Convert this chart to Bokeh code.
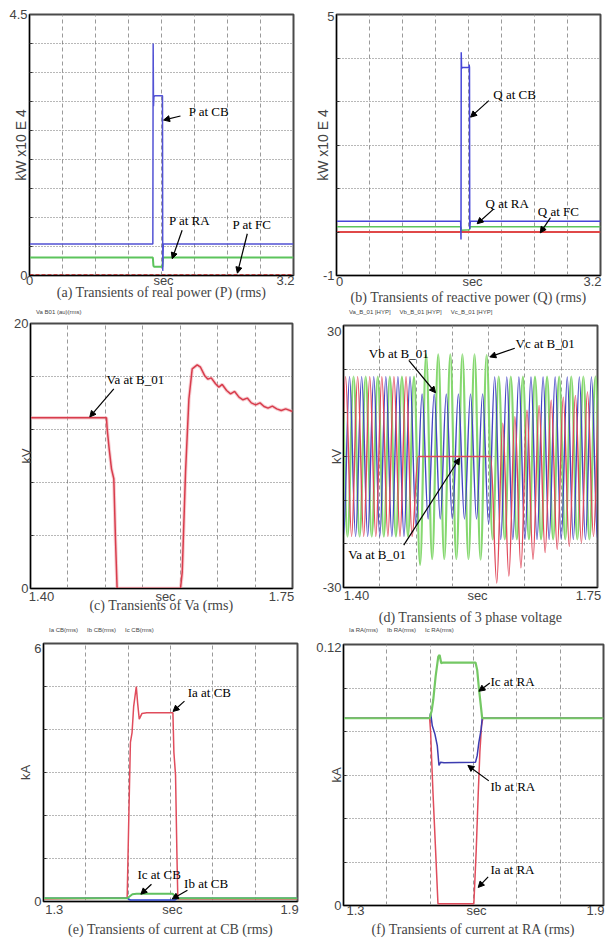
import numpy as np
from bokeh.plotting import figure
from bokeh.layouts import row, column
from bokeh.models import (FixedTicker, Label, Arrow, NormalHead, Legend,
                          LegendItem, Range1d)
from bokeh.embed import file_html
from bokeh.resources import INLINE

SANS = "Liberation Sans"
SERIF = "Liberation Serif"

# ---------------- data ----------------
# (a) real power, kW x10 E 4
P_CB_t = [0.0, 1.495, 1.499, 1.503, 1.508, 1.52, 1.612, 1.615, 1.622, 3.2]
P_CB = [0.545, 0.545, 4.0, 2.92, 3.08, 3.1, 3.1, 0.08, 0.545, 0.545]
P_RA_t = [0.0, 1.495, 1.502, 1.51, 1.61, 1.62, 3.2]
P_RA = [0.31, 0.31, 0.17, 0.15, 0.15, 0.31, 0.31]
P_FC_t = [0.0, 3.2]
P_FC = [0.01, 0.01]

# (b) reactive power
Q_CB_t = [0.0, 1.505, 1.509, 1.512, 1.516, 1.52, 1.605, 1.608, 1.612, 1.615, 1.622, 3.2]
Q_CB = [0.25, 0.25, -0.17, 4.13, 3.75, 3.78, 3.78, 3.85, 3.78, 0.07, 0.25, 0.25]
Q_RA_t = [0.0, 1.508, 1.515, 1.612, 1.62, 3.2]
Q_RA = [0.12, 0.12, 0.04, 0.05, 0.12, 0.12]
Q_FC_t = [0.0, 3.2]
Q_FC = [0.0, 0.0]

# (c) Va rms, kV
Va_t = [1.40, 1.5015, 1.5024, 1.5051, 1.5082, 1.5113, 1.5135, 1.5157, 1.6004, 1.6027,
        1.6071, 1.6116, 1.616, 1.6227, 1.6271, 1.6325, 1.637, 1.6414, 1.6472, 1.6516,
        1.6561, 1.662, 1.6673, 1.6727, 1.6785, 1.6838, 1.6896, 1.695, 1.7008, 1.7066,
        1.712, 1.7173, 1.7231, 1.7289, 1.735, 1.7409, 1.75]
Va_rms = [12.88, 12.88, 12.05, 10.54, 9.03, 8.28, 3.75, 0.0, 0.0, 1.23,
          8.78, 14.3, 16.58, 16.88, 16.7, 16.08, 15.8, 15.9, 15.45, 15.2,
          15.4, 14.94, 14.69, 14.87, 14.44, 14.24, 14.37, 14.01, 13.86, 14.01,
          13.74, 13.61, 13.76, 13.56, 13.43, 13.56, 13.36]

# (d) instantaneous phase voltages: successive half-cycle peak values (kV), 60 Hz
HALF_CYCLE = 1.0 / 120.0
Va_t0 = 1.3945
Va_peaks = [-18.3, 18.3, -18.3, 18.3, -18.3, 18.3, -18.3, 18.3, -18.3, 18.3, -18.3, 18.3, -18.3,
            0, 0, 0, 0, 0, 0, 0, 0, 0, 0, 0, 0, 0,
            -29.0, 7.6, -27.4, 9.1, -25.5, 10.6, -23.6, 11.7, -22.0, 12.9, -21.3, 13.6,
            -20.6, 14.0, -19.8, 14.8, -18.3, 15.6]
Vb_t0 = 1.4000
Vb_peaks = [-18.3, 18.3, -18.3, 18.3, -18.3, 18.3, -18.3, 18.3, -18.3, 18.3, -18.3, 18.3,
            -16.0,
            14.3, -14.3, 14.3, -14.3, 14.3, -14.3, 14.3, -14.3, 14.3, -14.3, 14.3,
            -15.5,
            18.2, -19.0, 18.2, -19.0, 18.2, -19.0, 18.2, -19.0, 18.2, -19.0, 18.2, -19.0,
            18.2, -19.0, 18.2, -19.0, 18.2, -19.0]
Vc_t0 = 1.3972
Vc_peaks = [18.3, -18.3, 18.3, -18.3, 18.3, -18.3, 18.3, -18.3, 18.3, -18.3, 18.3, -18.3, 18.3,
            -24.8,
            23.4, -23.5, 23.4, -23.5, 23.4, -23.5, 23.4, -23.5, 23.4, -23.6, 23.2,
            -19.0,
            18.3, -19.0, 18.3, -19.0, 18.3, -19.0, 18.3, -19.0, 18.3, -19.0, 18.3, -19.0,
            18.3, -19.0, 18.3, -19.0, 18.3, -19.0]

# (e) currents at CB, kA
Ia_CB_t = [1.3, 1.4976, 1.5015, 1.5053, 1.5092, 1.513, 1.5192, 1.5223, 1.5262, 1.5324,
           1.544, 1.6057, 1.608, 1.6119, 1.615, 1.6173, 1.9]
Ia_CB = [0.06, 0.08, 1.95, 3.7, 3.93, 4.54, 5.0, 4.62, 4.24, 4.37,
         4.39, 4.39, 3.47, 2.94, 1.18, 0.06, 0.06]
Ib_CB_t = [1.3, 1.498, 1.505, 1.61, 1.617, 1.9]
Ib_CB = [0.076, 0.076, 0.035, 0.035, 0.076, 0.076]
Ic_CB_t = [1.3, 1.498, 1.51, 1.52, 1.605, 1.615, 1.9]
Ic_CB = [0.076, 0.076, 0.17, 0.18, 0.18, 0.076, 0.076]

# (f) currents at RA, kA
Ic_RA_t = [1.3, 1.4988, 1.5034, 1.5072, 1.5126, 1.5187, 1.5218, 1.5256, 1.5295, 1.6047,
           1.6085, 1.6124, 1.6162, 1.62, 1.9]
Ic_RA = [0.0861, 0.0861, 0.0894, 0.0947, 0.1053, 0.1144, 0.1152, 0.1114, 0.1117, 0.1117,
         0.1083, 0.1, 0.0932, 0.0861, 0.0861]
Ib_RA_t = [1.3, 1.4988, 1.5011, 1.5049, 1.511, 1.5164, 1.5203, 1.5241, 1.5318, 1.6047,
           1.6085, 1.6124, 1.6177, 1.62, 1.9]
Ib_RA = [0.0861, 0.0861, 0.0886, 0.0826, 0.0788, 0.0735, 0.0644, 0.0659, 0.0656, 0.0659,
         0.0689, 0.075, 0.0811, 0.0861, 0.0861]
Ia_RA_t = [1.3, 1.4988, 1.5011, 1.5034, 1.5064, 1.5126, 1.518, 1.6008, 1.6062, 1.6108,
           1.6147, 1.6185, 1.6216, 1.9]
Ia_RA = [0.0861, 0.0861, 0.0795, 0.0674, 0.0523, 0.025, 0.0008, 0.0008, 0.025, 0.0508,
         0.0705, 0.0826, 0.0861, 0.0861]


# ---------------- helpers ----------------
def panel(w, h, left, right, top, bottom, xr, yr, xgrid, ygrid, xspecs, yspecs,
          ylabel, ylab_size, ylab_stand, caption, lab_stand, cap_stand):
    fw = w - left - right
    fh = h - top - bottom
    p = figure(width=w, height=h, x_range=Range1d(*xr), y_range=Range1d(*yr),
               output_backend="svg", toolbar_location=None,
               min_border_left=left, min_border_right=right,
               min_border_top=top, min_border_bottom=bottom)
    p.outline_line_color = "#4a4a4a"
    p.outline_line_width = 2
    p.background_fill_color = "white"
    p.border_fill_color = "white"

    # time axis: end labels kept inside the frame edges, "sec" in the middle
    xt, xo = [], {}
    for v, lbl, sh in xspecs:
        t = v + sh * (xr[1] - xr[0]) / fw
        xt.append(t)
        xo[t] = lbl
    xa = p.xaxis[0]
    xa.ticker = FixedTicker(ticks=xt)
    xa.major_label_overrides = xo
    xa.major_label_text_font = SANS
    xa.major_label_text_font_size = "13px"
    xa.major_label_standoff = lab_stand
    xa.major_tick_out = 0
    xa.major_tick_in = 0
    xa.axis_line_color = "black"
    xa.axis_label = caption
    xa.axis_label_text_font = SERIF
    xa.axis_label_text_font_size = "14px"
    xa.axis_label_text_font_style = "normal"
    xa.axis_label_standoff = cap_stand

    yt, yo = [], {}
    for v, lbl, sh in yspecs:
        t = v - sh * (yr[1] - yr[0]) / fh
        yt.append(t)
        yo[t] = lbl
    ya = p.yaxis[0]
    ya.ticker = FixedTicker(ticks=yt, minor_ticks=ygrid)
    ya.major_label_overrides = yo
    ya.major_label_text_font = SANS
    ya.major_label_text_font_size = "13px"
    ya.major_label_standoff = 2
    ya.major_tick_out = 0
    ya.major_tick_in = 0
    ya.minor_tick_in = 3
    ya.minor_tick_out = 0
    ya.minor_tick_line_color = "#333333"
    ya.axis_line_color = "black"
    ya.axis_label = ylabel
    ya.axis_label_text_font = SANS
    ya.axis_label_text_font_size = ylab_size
    ya.axis_label_text_font_style = "normal"
    ya.axis_label_standoff = ylab_stand

    p.xgrid.ticker = FixedTicker(ticks=xgrid)
    p.ygrid.ticker = FixedTicker(ticks=ygrid)
    p.xgrid.grid_line_color = "#9a9a9a"
    p.xgrid.grid_line_dash = "4 3"
    p.ygrid.grid_line_color = "#707070"
    p.ygrid.grid_line_dash = "1 2"
    return p


def note(p, text, x, y, x0, y0, x1, y1):
    p.add_layout(Label(x=x, y=y, text=text, text_font=SERIF, text_font_size="13px",
                       text_baseline="middle", text_align="left", text_color="black"))
    p.add_layout(Arrow(end=NormalHead(size=6, fill_color="black", line_color="black"),
                       x_start=x0, y_start=y0, x_end=x1, y_end=y1,
                       line_color="black", line_width=1.2))


def legend_strip(w, h, left, labels, colors):
    q = figure(width=w, height=h, output_backend="svg", toolbar_location=None,
               x_axis_location=None, y_axis_location=None,
               min_border_left=left, min_border_right=0, min_border_top=0,
               min_border_bottom=0)
    q.outline_line_color = None
    q.grid.visible = False
    q.background_fill_color = "white"
    q.border_fill_color = "white"
    items = []
    for lbl, c in zip(labels, colors):
        sq = q.scatter(x=[], y=[], marker="square", size=5, color=c)
        items.append(LegendItem(label=lbl, renderers=[sq]))
    lg = Legend(items=items, orientation="horizontal", location="top_left",
                label_text_font=SANS, label_text_font_size="6px",
                label_text_color="#444444", glyph_width=5, glyph_height=5,
                label_standoff=1, spacing=3, padding=0, margin=0,
                label_height=6, border_line_alpha=0, background_fill_alpha=0)
    q.add_layout(lg, "center")
    return q


def wave(p, t0, peaks, color, width):
    # smooth half-cycle arcs drawn between successive read peak values
    t = t0 + HALF_CYCLE * np.arange(len(peaks))
    v = np.asarray(peaks, dtype=float)
    k = 0.364 * HALF_CYCLE
    p.bezier(x0=t[:-1], y0=v[:-1], x1=t[1:], y1=v[1:],
             cx0=t[:-1] + k, cy0=v[:-1], cx1=t[1:] - k, cy1=v[1:],
             line_color=color, line_width=width)


BLUE = "#5252d4"
GREEN = "#5cc45c"

# ---------------- (a) ----------------
pa = panel(304, 309, 29, 11, 14, 31, (0, 3.2), (0, 4.5),
           [0.4, 0.8, 1.2, 1.6, 2.0, 2.4, 2.8],
           [0.5, 1.0, 1.5, 2.0, 2.5, 3.0, 3.5, 4.0],
           [(0, "0", 0), (1.6, "sec", 2), (3.2, "3.2", -8)],
           [(0, "0", 0), (4.5, "4.5", 0)],
           "kW x10 E 4", "14px", -23,
           "(a) Transients of real power (P) (rms)", -3, -6)
pa.line(P_FC_t, P_FC, line_color="#b02020", line_width=1.3, line_dash="4 2")
pa.line(P_RA_t, P_RA, line_color=GREEN, line_width=2)
pa.line(P_CB_t, P_CB, line_color=BLUE, line_width=1.5)
note(pa, "P at CB", 1.93, 2.83, 1.83, 2.75, 1.625, 2.68)
note(pa, "P at RA", 1.69, 0.94, 1.85, 0.78, 1.73, 0.29)
note(pa, "P at FC", 2.46, 0.88, 2.64, 0.72, 2.52, 0.04)

# ---------------- (b) ----------------
pb = panel(304, 309, 32, 8, 11, 34, (0, 3.2), (-1, 5),
           [0.4, 0.8, 1.2, 1.6, 2.0, 2.4, 2.8],
           [0, 1, 2, 3, 4],
           [(0, "0", 3), (1.6, "sec", 4), (3.2, "3.2", -8)],
           [(-1, "-1", 0), (5, "5", 2)],
           "kW x10 E 4", "14px", -11,
           "(b) Transients of reactive power (Q) (rms)", -2, -2)
pb.line(Q_FC_t, Q_FC, line_color="#e04848", line_width=2)
pb.line(Q_RA_t, Q_RA, line_color=GREEN, line_width=1.5)
pb.line(Q_CB_t, Q_CB, line_color="#4646d8", line_width=1.5)
note(pb, "Q at CB", 1.9, 3.17, 1.846, 3.02, 1.625, 2.64)
note(pb, "Q at RA", 1.806, 0.65, 1.9, 0.52, 1.705, 0.19)
note(pb, "Q at FC", 2.44, 0.46, 2.594, 0.33, 2.47, -0.02)

# ---------------- (c) ----------------
pc = panel(304, 312, 30, 12, 8, 39, (1.40, 1.75), (0, 20),
           [1.45, 1.50, 1.55, 1.60, 1.65, 1.70],
           [4, 8, 12, 16],
           [(1.40, "1.40", 11), (1.575, "sec", 4), (1.75, "1.75", -11)],
           [(0, "0", 0), (20, "20", 0)],
           "kV", "13px", -23,
           "(c) Transients of Va (rms)", 0, -9)
pc.line(Va_t, Va_rms, line_color="#f0a0a8", line_width=3.5, line_alpha=0.5)
pc.line(Va_t, Va_rms, line_color="#d83c4c", line_width=1.5)
note(pc, "Va at B_01", 1.5015, 15.8, 1.5113, 15.07, 1.4792, 12.95)
legc = legend_strip(304, 6, 26, ["Va B01 (au)(rms)"], ["#d83c4c"])

# ---------------- (d) ----------------
pd_ = panel(304, 312, 39, 11, 10, 39, (1.40, 1.75), (-30, 30),
            [1.45, 1.50, 1.55, 1.60, 1.65, 1.70],
            [-20, -10, 0, 10, 20],
            [(1.40, "1.40", 13), (1.575, "sec", 7), (1.75, "1.75", -9)],
            [(-30, "-30", 0), (30, "30", 6)],
            "kV", "13px", -24,
            "(d) Transients of 3 phase voltage", 0, 4)
wave(pd_, Vc_t0, Vc_peaks, "#86d870", 2.2)
wave(pd_, Vb_t0, Vb_peaks, "#4444c4", 1.4)
wave(pd_, Va_t0, Va_peaks, "#e0485a", 1.4)
note(pd_, "Vb at B_01", 1.4349, 23.7, 1.49, 22.0, 1.5268, 14.6)
note(pd_, "Vc at B_01", 1.637, 25.8, 1.636, 24.8, 1.6016, 22.8)
note(pd_, "Va at B_01", 1.4065, -22.5, 1.483, -20.3, 1.56, -0.4)
legd = legend_strip(304, 6, 39, ["Va_B_01 [HYP]", "Vb_B_01 [HYP]", "Vc_B_01 [HYP]"],
                    ["#e0485a", "#4444c4", "#86d870"])

# ---------------- (e) ----------------
pe = panel(304, 305, 38, 7, 9, 38, (1.3, 1.9), (0, 6),
           [1.4, 1.5, 1.6, 1.7, 1.8],
           [1, 2, 3, 4, 5],
           [(1.3, "1.3", 11), (1.6, "sec", 2), (1.9, "1.9", -8)],
           [(0, "0", 0), (6, "6", 5)],
           "kA", "13px", -2,
           "(e) Transients of current at CB (rms)", 0, 2)
pe.line(Ia_CB_t, Ia_CB, line_color="#e04c5c", line_width=1.5)
pe.line(Ib_CB_t, Ib_CB, line_color="#2c44d0", line_width=1.5)
pe.line(Ic_CB_t, Ic_CB, line_color="#60c060", line_width=2)
note(pe, "Ia at CB", 1.6405, 4.85, 1.633, 4.66, 1.606, 4.42)
note(pe, "Ic at CB", 1.522, 0.62, 1.555, 0.40, 1.53, 0.17)
note(pe, "Ib at CB", 1.632, 0.42, 1.64, 0.26, 1.604, 0.06)
lege = legend_strip(304, 7, 43, ["Ia CB(rms)", "Ib CB(rms)", "Ic CB(rms)"],
                    ["#e04c5c", "#2c44d0", "#60c060"])

# ---------------- (f) ----------------
pf = panel(304, 305, 39, 5, 10, 34, (1.3, 1.9), (0, 0.12),
           [1.4, 1.5, 1.6, 1.7, 1.8],
           [0.02, 0.04, 0.06, 0.08, 0.10],
           [(1.3, "1.3", 12), (1.6, "sec", 3), (1.9, "1.9", -8)],
           [(0, "0", 0), (0.12, "0.12", 3)],
           "kA", "13px", -31,
           "(f) Transients of current at RA (rms)", -3, 1)
pf.line(Ia_RA_t, Ia_RA, line_color="#e04c5c", line_width=1.5)
pf.line(Ib_RA_t, Ib_RA, line_color="#3c3cb0", line_width=1.5)
pf.line(Ic_RA_t, Ic_RA, line_color="#74c864", line_width=2.2)
note(pf, "Ic at RA", 1.6392, 0.103, 1.6377, 0.1023, 1.6124, 0.0985)
note(pf, "Ib at RA", 1.6392, 0.0545, 1.6354, 0.0573, 1.587, 0.0644)
note(pf, "Ia at RA", 1.639, 0.0167, 1.6338, 0.0132, 1.6108, 0.0083)
legf = legend_strip(304, 7, 38, ["Ia RA(rms)", "Ib RA(rms)", "Ic RA(rms)"],
                    ["#e04c5c", "#3c3cb0", "#74c864"])

layout = column(row(pa, pb),
                row(column(legc, pc), column(legd, pd_)),
                row(column(lege, pe), column(legf, pf)))
open("out.html", "w").write(file_html(layout, INLINE))
